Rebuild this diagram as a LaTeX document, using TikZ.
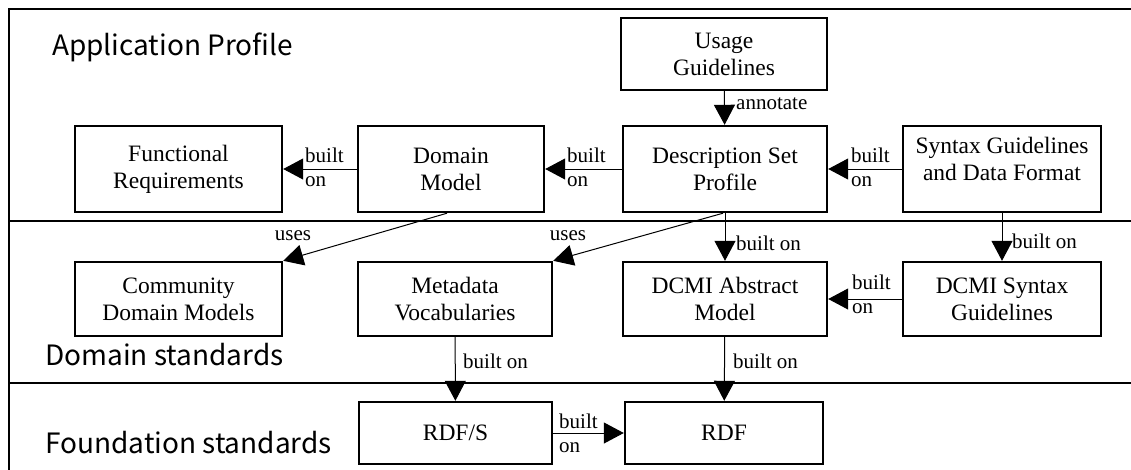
\documentclass[tikz,border=0pt]{standalone}
\usepackage{fontspec}
\setmainfont{Liberation Serif}
\newfontfamily\gothic{Noto Sans CJK JP}
\usetikzlibrary{arrows.meta}
\tikzset{
  box/.style={draw, line width=2.4pt, align=center, inner sep=0pt,
    font=\fontsize{23.5}{27}\selectfont},
  arr/.style={line width=1pt, -{Triangle[length=20pt,width=21pt]}},
  lab/.style={inner sep=0pt, align=left, font=\fontsize{21}{24}\selectfont},
  sect/.style={inner sep=0pt, anchor=base west, font=\gothic\fontsize{28}{32}\selectfont},
  frame/.style={line width=2pt}
}
\begin{document}
\begin{tikzpicture}[x=1pt,y=-1pt]
\useasboundingbox (0,0) rectangle (1131,469);
% frame
\draw[frame] (1135,9) -- (9,9) -- (9,475);
\draw[frame] (9,221) -- (1135,221);
\draw[frame] (9,383) -- (1135,383);
% section titles
\node[sect] (tap) at (52,55) {Application Profile};
\node[sect] (tds) at (45,365) {Domain standards};
\node[sect] (tfs) at (45,453) {Foundation standards};
% boxes
\node[box, minimum width=207pt, minimum height=86pt] (fr) at (178.5,169) {Functional\\Requirements};
\node[box, minimum width=186pt, minimum height=86pt] (dm) at (451,169) {Domain\\Model};
\node[box, minimum width=204pt, minimum height=86pt] (dsp) at (725,169) {Description Set\\Profile};
\node[box, minimum width=206pt, minimum height=72pt] (ug) at (724,54) {Usage\\Guidelines};
\node[box, minimum width=198pt, minimum height=86pt, text depth=21pt] (sgdf) at (1002,169) {Syntax Guidelines\\and Data Format};
\node[box, minimum width=207pt, minimum height=74pt] (cdm) at (178.5,299) {Community\\Domain Models};
\node[box, minimum width=194pt, minimum height=74pt] (mv) at (455,299) {Metadata\\Vocabularies};
\node[box, minimum width=204pt, minimum height=74pt] (am) at (725,299) {DCMI Abstract\\Model};
\node[box, minimum width=198pt, minimum height=74pt] (dsg) at (1002,299) {DCMI Syntax\\Guidelines};
\node[box, minimum width=193pt, minimum height=62pt] (rdfs) at (455.5,433) {RDF/S};
\node[box, minimum width=198pt, minimum height=62pt] (rdf) at (724,433) {RDF};
% connectors
\draw[arr] (ug) -- (dsp);
\draw[arr] (dm) -- (fr);
\draw[arr] (dsp) -- (dm);
\draw[arr] (sgdf.west) -- (dsp.east);
\draw[arr] (dm.south) ++(-4,0) -- (cdm.north east);
\draw[arr] (dsp.south) ++(-2,0) -- (mv.north east);
\draw[arr] (dsp) -- (am);
\draw[arr] (sgdf.south) -- (dsg.north);
\draw[arr] (dsg) -- (am);
\draw[arr] (mv) -- (rdfs);
\draw[arr] (am) -- (rdf);
\draw[arr] (rdfs) -- (rdf);
% labels
\node[lab, anchor=west] (l1) at (736,104) {annotate};
\node[lab, anchor=west] (l2) at (305,167) {built\\on};
\node[lab, anchor=west] (l3) at (567,167) {built\\on};
\node[lab, anchor=west] (l4) at (851,167) {built\\on};
\node[lab] (l5) at (293,236) {uses};
\node[lab] (l6) at (568,236) {uses};
\node[lab, anchor=west] (l7) at (736,243) {built on};
\node[lab, anchor=west] (l8) at (1012,241) {built on};
\node[lab, anchor=west] (l9) at (852,294) {built\\on};
\node[lab, anchor=west] (l10) at (463,361) {built on};
\node[lab, anchor=west] (l11) at (733,361) {built on};
\node[lab, anchor=west] (l12) at (559,433) {built\\on};
\end{tikzpicture}
\end{document}
